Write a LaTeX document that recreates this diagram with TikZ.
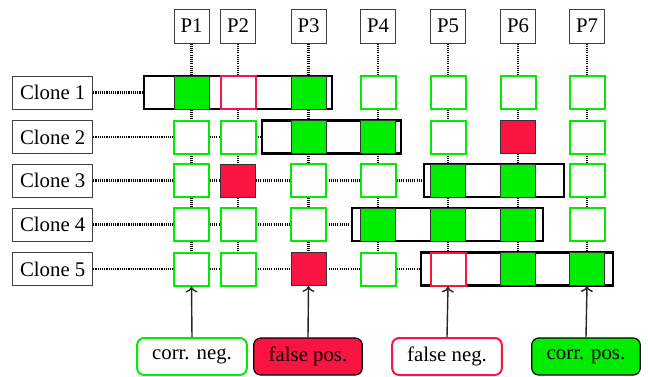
\documentclass[tikz,border=0pt]{standalone}
\usepackage{fontspec}
\setmainfont{Liberation Serif}
\newfontfamily\tms{Liberation Serif}
\usetikzlibrary{arrows.meta,backgrounds}
\definecolor{gr}{RGB}{0,236,0}
\definecolor{rd}{RGB}{250,20,66}
\tikzset{
  sq/.style={minimum width=17.5pt,minimum height=16.5pt,inner sep=0pt},
  tneg/.style={sq,draw=gr,fill=white,line width=1pt},
  tpos/.style={sq,draw=black!80,fill=gr,line width=0.5pt},
  fpos/.style={sq,draw=black!80,fill=rd,line width=0.5pt},
  fneg/.style={sq,draw=rd,fill=white,line width=1pt},
  plbl/.style={draw=black!75,line width=0.5pt,fill=white,minimum width=17.5pt,minimum height=17pt,inner sep=0pt},
  clbl/.style={draw=black!75,line width=0.5pt,fill=white,minimum width=40pt,minimum height=16.5pt,inner sep=0pt},
  frm/.style={draw=black,line width=1.2pt,fill=white,minimum height=16.5pt,inner sep=0pt},
  dots/.style={line width=1.1pt,dash pattern=on 0.55pt off 0.55pt},
  leg/.style={rounded corners=3.5pt,minimum height=18.5pt,inner xsep=7.5pt,inner ysep=0pt},
  arr/.style={draw=black!85,line width=0.7pt,-{To[length=3pt,width=6pt,line width=0.7pt]}}
}
\begin{document}
\begin{tikzpicture}[x=0.5pt,y=-0.5pt,font=\tms\fontsize{10.4}{12}\selectfont]
\useasboundingbox (0,0) rectangle (648,376);
% column labels
\node[plbl] (p1) at (191.5,26) {P1};
\node[plbl] (p2) at (238,26) {P2};
\node[plbl] (p3) at (308.5,26) {P3};
\node[plbl] (p4) at (378,26) {P4};
\node[plbl] (p5) at (448,26) {P5};
\node[plbl] (p6) at (518,26) {P6};
\node[plbl] (p7) at (587,26) {P7};
% clone labels
\node[clbl] (c1) at (52.7,92.5) {Clone 1};
\node[clbl] (c2) at (52.7,137) {Clone 2};
\node[clbl] (c3) at (52.7,180.5) {Clone 3};
\node[clbl] (c4) at (52.7,224.5) {Clone 4};
\node[clbl] (c5) at (52.7,269) {Clone 5};
% frames
\node[frm,minimum width=94pt] (f1) at (238,92.5) {};
\node[frm,minimum width=69.5pt] (f2) at (331.5,137) {};
\node[frm,minimum width=70pt] (f3) at (494,180.5) {};
\node[frm,minimum width=95.5pt] (f4) at (447.5,224.5) {};
\node[frm,minimum width=96pt] (f5) at (517,269) {};
% row 1
\node[tpos] (s11) at (191.5,92.5) {};
\node[fneg] (s12) at (238,92.5) {};
\node[tpos] (s13) at (308.5,92.5) {};
\node[tneg] (s14) at (378,92.5) {};
\node[tneg] (s15) at (448,92.5) {};
\node[tneg] (s16) at (518,92.5) {};
\node[tneg] (s17) at (587,92.5) {};
% row 2
\node[tneg] (s21) at (191.5,137) {};
\node[tneg] (s22) at (238,137) {};
\node[tpos] (s23) at (308.5,137) {};
\node[tpos] (s24) at (378,137) {};
\node[tneg] (s25) at (448,137) {};
\node[fpos] (s26) at (518,137) {};
\node[tneg] (s27) at (587,137) {};
% row 3
\node[tneg] (s31) at (191.5,180.5) {};
\node[fpos] (s32) at (238,180.5) {};
\node[tneg] (s33) at (308.5,180.5) {};
\node[tneg] (s34) at (378,180.5) {};
\node[tpos] (s35) at (448,180.5) {};
\node[tpos] (s36) at (518,180.5) {};
\node[tneg] (s37) at (587,180.5) {};
% row 4
\node[tneg] (s41) at (191.5,224.5) {};
\node[tneg] (s42) at (238,224.5) {};
\node[tneg] (s43) at (308.5,224.5) {};
\node[tpos] (s44) at (378,224.5) {};
\node[tpos] (s45) at (448,224.5) {};
\node[tpos] (s46) at (518,224.5) {};
\node[tneg] (s47) at (587,224.5) {};
% row 5
\node[tneg] (s51) at (191.5,269) {};
\node[tneg] (s52) at (238,269) {};
\node[fpos] (s53) at (308.5,269) {};
\node[tneg] (s54) at (378,269) {};
\node[fneg] (s55) at (448,269) {};
\node[tpos] (s56) at (518,269) {};
\node[tpos] (s57) at (587,269) {};
% legend
\node[leg,draw=gr,fill=white,line width=1pt] (l1) at (192,356.5) {corr. neg.};
\node[leg,draw=black,fill=rd,line width=0.6pt] (l2) at (308,356.5) {false pos.};
\node[leg,draw=rd,fill=white,line width=1pt] (l3) at (447,356.5) {false neg.};
\node[leg,draw=black,fill=gr,line width=0.6pt] (l4) at (586,356.5) {corr. pos.};
% connectors
\begin{scope}[on background layer]
\foreach \i in {1,...,7} \draw[dots] (p\i.south) -- (s5\i.center);
\foreach \j in {1,...,5} \draw[dots] (c\j.east) -- (f\j.west);
\end{scope}
\draw[arr] (l1.north) -- (s51.south);
\draw[arr] (l2.north) -- (s53.south);
\draw[arr] (l3.north) -- (s55.south);
\draw[arr] (l4.north) -- (s57.south);
\end{tikzpicture}
\end{document}
